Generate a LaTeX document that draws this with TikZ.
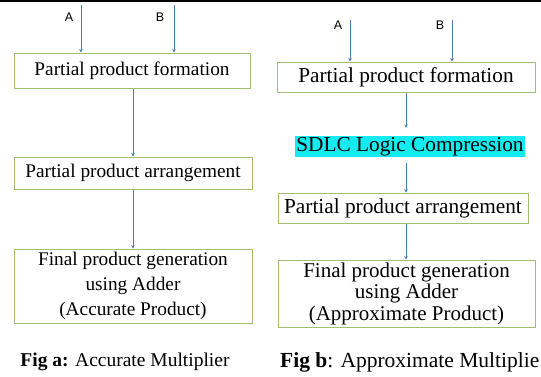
\documentclass[tikz,border=0pt]{standalone}
\usepackage{fontspec}
\setmainfont{Liberation Serif}
\newfontfamily\labelfont{Liberation Sans}
\usetikzlibrary{arrows.meta}
\definecolor{boxgreen}{RGB}{160,192,112}
\definecolor{arrowblue}{RGB}{74,126,187}
\definecolor{hlcyan}{RGB}{20,235,240}
\tikzset{
  stage/.style={draw=boxgreen, line width=1pt, align=center, inner sep=0pt},
  flow/.style={draw=arrowblue, line width=0.8pt, -{Stealth[length=3.5pt,width=3.5pt]}},
  inlabel/.style={font=\labelfont\fontsize{12.5}{14}\selectfont, inner sep=0pt}
}
\begin{document}
\begin{tikzpicture}[x=1pt, y=-1pt]
				\useasboundingbox (0,0) rectangle (541,376);
				\draw[line width=2pt] (0,1) -- (541,1);
				% Fig a
				\node[stage, minimum width=236pt, minimum height=35pt, font=\fontsize{19.3}{22}\selectfont] (Fa)at(132, 70.5) {Partial product formation};
				\node[stage, minimum width=238pt, minimum height=32pt, font=\fontsize{19.3}{22}\selectfont] (Aa)at(133, 173) {Partial product arrangement};
				\node[stage, minimum width=238pt, minimum height=74pt, font=\fontsize{19.3}{25}\selectfont] (Ga)at(133, 286) {Final product generation\\using Adder\\(Accurate Product)};
				\coordinate (ia)at(81, 5);
				\coordinate (ib)at(174, 5);
				\node[inlabel] (la)at(69, 17) {A};
				\node[inlabel] (lb)at(160, 17) {B};
				\draw[flow] (ia) -- (ia |- Fa.north);
				\draw[flow] (ib) -- (ib |- Fa.north);
				\draw[flow] (Fa.south -| 133,0) -- (Aa.north -| 133,0);
				\draw[flow] (Aa) -- (Ga);
				\node[anchor=center, inner sep=0pt, font=\fontsize{19.5}{22}\selectfont] (ca)at(125, 362) {\textbf{Fig a:} Accurate Multiplier};
				% Fig b
				\node[stage, minimum width=258pt, minimum height=30pt, font=\fontsize{21.3}{23}\selectfont] (Fb)at(406, 77) {Partial product formation};
				\node[fill=hlcyan, inner sep=0pt, minimum width=230pt, minimum height=21pt, font=\fontsize{21.3}{23}\selectfont] (Sb)at(410, 146.5) {SDLC Logic Compression};
				\node[stage, minimum width=250pt, minimum height=30pt, font=\fontsize{21.3}{23}\selectfont] (Ab)at(403, 208) {Partial product arrangement};
				\node[stage, minimum width=257pt, minimum height=67pt, font=\fontsize{21}{21.5}\selectfont] (Gb)at(406.5, 293.5) {Final product generation\\using Adder\\(Approximate Product)};
				\coordinate (ja)at(350, 20);
				\coordinate (jb)at(452, 20);
				\node[inlabel] (ma)at(338, 25) {A};
				\node[inlabel] (mb)at(440, 25) {B};
				\draw[flow] (ja) -- (ja |- Fb.north);
				\draw[flow] (jb) -- (jb |- Fb.north);
				\draw[flow, shorten >=8pt] (Fb.south -| 406,0) -- (Sb.north -| 406,0);
				\draw[flow, shorten <=6pt] (Sb.south -| 406,0) -- (Ab.north -| 406,0);
				\draw[flow] (Ab.south -| 406,0) -- (Gb.north -| 406,0);
				\node[anchor=west, inner sep=0pt, font=\fontsize{21.5}{23}\selectfont] (cb)at(280, 362) {\textbf{Fig b}: Approximate Multiplie};
			\end{tikzpicture}
\end{document}
